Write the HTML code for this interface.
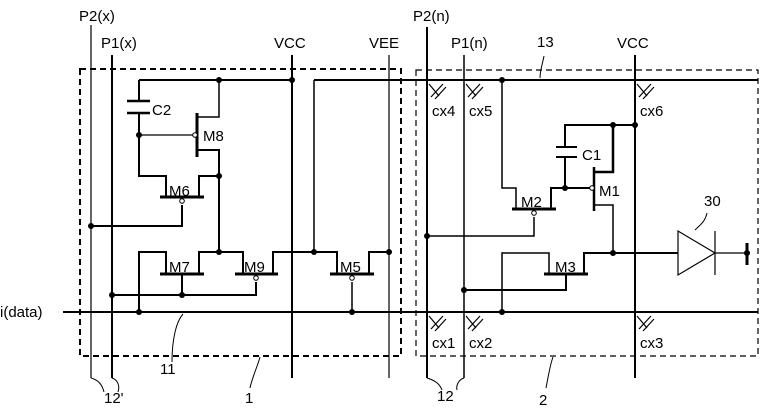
<!DOCTYPE html>
<html><head><meta charset="utf-8"><style>
html,body{margin:0;padding:0;background:#fff;}
svg{display:block;}
text{font-family:"Liberation Sans",sans-serif;font-size:15px;fill:#000;}
</style></head><body>
<svg width="765" height="409" viewBox="0 0 765 409" xmlns="http://www.w3.org/2000/svg">
<g fill="none" stroke="#000">
<!-- dashed boxes -->
<rect x="80" y="69" width="321" height="287" stroke-width="2" stroke-dasharray="6,4"/>
<rect x="416" y="70" width="342" height="286" stroke-width="1.2" stroke-dasharray="6,4"/>
<!-- vertical buses -->
<line x1="91" y1="25" x2="91" y2="378" stroke-width="1.2"/>
<line x1="112" y1="55" x2="112" y2="378" stroke-width="2"/>
<line x1="292" y1="55" x2="292" y2="378" stroke-width="2"/>
<line x1="389" y1="55" x2="389" y2="378" stroke-width="1.2"/>
<line x1="427" y1="27" x2="427" y2="378" stroke-width="2"/>
<line x1="464" y1="55" x2="464" y2="378" stroke-width="1.5"/>
<line x1="635" y1="55" x2="635" y2="378" stroke-width="2"/>
<!-- data line -->
<line x1="63" y1="312" x2="758" y2="312" stroke-width="2"/>
<!-- top rails -->
<line x1="139" y1="80" x2="292" y2="80" stroke-width="2"/>
<line x1="314" y1="80" x2="758" y2="80" stroke-width="2"/>
<!-- left circuit -->
<polyline points="139,80 139,101" stroke-width="2"/>
<line x1="127" y1="101" x2="150" y2="101" stroke-width="2.5"/>
<line x1="127" y1="113" x2="150" y2="113" stroke-width="2.5"/>
<polyline points="139,113 139,176 166,176 166,196" stroke-width="2"/>
<line x1="139" y1="135" x2="193" y2="135" stroke-width="1.2"/>
<line x1="197" y1="113" x2="197" y2="157" stroke-width="3"/>
<polyline points="197,117 219,117 219,80" stroke-width="1.5"/>
<polyline points="197,150 219,150 219,251" stroke-width="2"/>
<line x1="160" y1="197" x2="204" y2="197" stroke-width="3"/>
<polyline points="199,196 199,176 219,176" stroke-width="2"/>
<polyline points="182,205 182,226 91,226" stroke-width="2"/>
<!-- M7 -->
<polyline points="139,312 139,252 166,252 166,274" stroke-width="2"/>
<line x1="160" y1="274" x2="204" y2="274" stroke-width="3"/>
<polyline points="199,274 199,252 243,252 243,274" stroke-width="2"/>
<line x1="182" y1="274" x2="182" y2="295" stroke-width="2"/>
<!-- M9 -->
<line x1="235" y1="274" x2="278" y2="274" stroke-width="3"/>
<polyline points="273,274 273,252 314,252" stroke-width="2"/>
<polyline points="256,282 256,295 112,295" stroke-width="2"/>
<!-- M5 -->
<line x1="314" y1="80" x2="314" y2="252" stroke-width="1.5"/>
<polyline points="314,252 337,252 337,274" stroke-width="2"/>
<line x1="330" y1="274" x2="374" y2="274" stroke-width="3"/>
<polyline points="369,274 369,252 389,252" stroke-width="2"/>
<line x1="352" y1="282" x2="352" y2="312" stroke-width="1.5"/>
<!-- bubbles -->
<circle cx="195" cy="135" r="2.3" stroke-width="1" fill="#fff"/>
<circle cx="182" cy="201" r="2.3" stroke-width="1" fill="#fff"/>
<circle cx="256" cy="278" r="2.3" stroke-width="1" fill="#fff"/>
<circle cx="352" cy="278" r="2.3" stroke-width="1" fill="#fff"/>
<!-- right circuit -->
<polyline points="502,80 502,188 516,188 516,209" stroke-width="1.5"/>
<line x1="512" y1="209" x2="556" y2="209" stroke-width="3"/>
<polyline points="551,209 551,188 590,188" stroke-width="2"/>
<polyline points="534,217 534,236 427,236" stroke-width="1.5"/>
<polyline points="565,188 565,157" stroke-width="2"/>
<line x1="556" y1="147" x2="577" y2="147" stroke-width="2"/>
<line x1="556" y1="157" x2="577" y2="157" stroke-width="2"/>
<polyline points="565,147 565,125 635,125" stroke-width="2"/>
<line x1="594" y1="167" x2="594" y2="211" stroke-width="2.5"/>
<polyline points="594,172 613,172 613,125" stroke-width="2.5"/>
<polyline points="594,205 613,205 613,253" stroke-width="1.5"/>
<circle cx="592" cy="188" r="2.3" stroke-width="1" fill="#fff"/>
<circle cx="534" cy="213" r="2.3" stroke-width="1" fill="#fff"/>
<!-- M3 -->
<polyline points="502,312 502,253 549,253 549,274" stroke-width="1.5"/>
<line x1="544" y1="274" x2="588" y2="274" stroke-width="3"/>
<polyline points="584,274 584,253 678,253" stroke-width="2"/>
<polyline points="566,274 566,290 464,290" stroke-width="2"/>
<!-- buffer 30 -->
<polygon points="678,231 678,275 715,253" stroke-width="1.2"/>
<line x1="715" y1="231" x2="715" y2="275" stroke-width="1.2"/>
<line x1="715" y1="253" x2="747" y2="253" stroke-width="1.2"/>
<line x1="747" y1="243" x2="747" y2="265" stroke-width="3"/>
<!-- cx marks -->
<g stroke-width="1.2">
<path d="M429,84 L439,96 M431,97 L443,84 M435,99 L446,87"/>
<path d="M466,84 L476,96 M468,97 L480,84 M472,99 L483,87"/>
<path d="M637,84 L647,96 M639,97 L651,84 M643,99 L654,87"/>
<path d="M429,316 L439,328 M431,329 L443,316 M435,331 L446,319"/>
<path d="M466,316 L476,328 M468,329 L480,316 M472,331 L483,319"/>
<path d="M637,316 L647,328 M639,329 L651,316 M643,331 L654,319"/>
</g>
<!-- leaders -->
<g stroke-width="1">
<path d="M183,314 C176,322 172,340 172,362"/>
<path d="M260,357 C258,365 252,378 250,388"/>
<path d="M91,378 C98,380 102,384 104,392"/>
<path d="M112,378 C118,380 120,386 118,392"/>
<path d="M427,378 C434,380 440,384 442,390"/>
<path d="M464,378 C458,380 456,386 457,390"/>
<path d="M553,357 C550,365 548,378 546,388"/>
<path d="M540,78 C540,70 543,62 544,56"/>
<path d="M695,230 C700,225 705,222 707,213"/>
</g>
</g>
<!-- dots -->
<g fill="#000">
<circle cx="219" cy="80" r="3"/><circle cx="292" cy="80" r="3"/>
<circle cx="139" cy="135" r="3"/><circle cx="219" cy="176" r="3"/>
<circle cx="91" cy="226" r="3"/><circle cx="219" cy="252" r="3"/>
<circle cx="314" cy="252" r="3"/><circle cx="389" cy="252" r="3"/>
<circle cx="112" cy="295" r="3"/><circle cx="182" cy="295" r="3"/>
<circle cx="139" cy="312" r="3"/><circle cx="352" cy="312" r="3"/>
<circle cx="502" cy="80" r="3"/><circle cx="613" cy="125" r="3"/><circle cx="635" cy="125" r="3"/>
<circle cx="565" cy="188" r="3"/><circle cx="427" cy="236" r="3"/>
<circle cx="613" cy="253" r="3"/><circle cx="464" cy="290" r="3"/>
<circle cx="502" cy="312" r="3"/><circle cx="747" cy="253" r="3"/>
</g>
<!-- labels -->
<text x="79" y="21">P2(x)</text>
<text x="101" y="48">P1(x)</text>
<text x="274" y="48">VCC</text>
<text x="369" y="48">VEE</text>
<text x="413" y="21">P2(n)</text>
<text x="451" y="48">P1(n)</text>
<text x="617" y="48">VCC</text>
<text x="537" y="47">13</text>
<text x="152" y="115">C2</text>
<text x="203" y="141">M8</text>
<text x="169" y="196">M6</text>
<text x="169" y="272">M7</text>
<text x="244" y="272">M9</text>
<text x="340" y="272">M5</text>
<text x="521" y="207">M2</text>
<text x="599" y="196">M1</text>
<text x="582" y="160">C1</text>
<text x="555" y="272">M3</text>
<text x="704" y="206">30</text>
<text x="432" y="116">cx4</text>
<text x="469" y="116">cx5</text>
<text x="640" y="116">cx6</text>
<text x="432" y="348">cx1</text>
<text x="469" y="348">cx2</text>
<text x="640" y="348">cx3</text>
<text x="0" y="317">i(data)</text>
<text x="160" y="374">11</text>
<text x="245" y="403">1</text>
<text x="104" y="403">12'</text>
<text x="437" y="401">12</text>
<text x="539" y="405">2</text>
</svg>
</body></html>
